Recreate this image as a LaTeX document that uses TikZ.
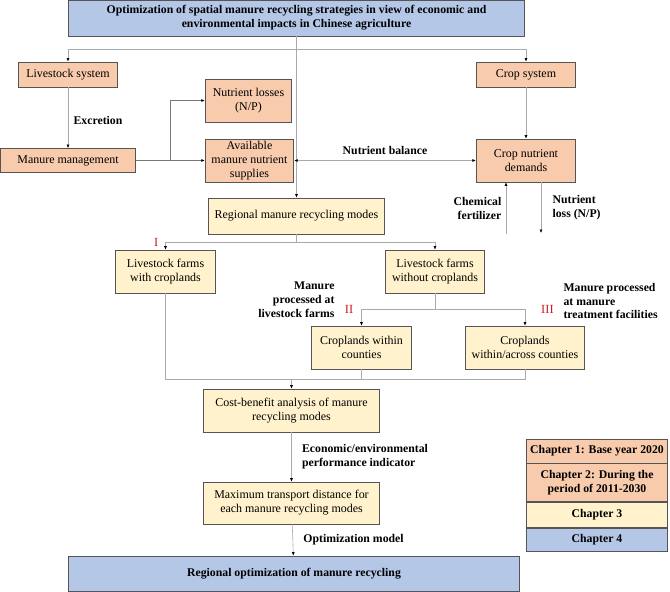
\documentclass[tikz,border=0pt]{standalone}
\usepackage{fontspec}
\setmainfont{Liberation Serif}
\usetikzlibrary{positioning,arrows.meta}
\definecolor{bluebox}{RGB}{180,199,231}
\definecolor{orangebox}{RGB}{248,203,173}
\definecolor{yellowbox}{RGB}{255,242,204}
\definecolor{edgegray}{RGB}{85,85,85}
\definecolor{linegray}{RGB}{170,170,170}
\definecolor{darkline}{RGB}{120,120,120}
\definecolor{romanred}{RGB}{200,30,40}

\begin{document}
\begin{tikzpicture}[x=1bp, y=1bp, font=\fontsize{12}{14}\selectfont,
	bx/.style={draw=edgegray, line width=.8pt, align=center, inner sep=1pt},
	wh/.style 2 args={minimum width=#1, minimum height=#2},
	ob/.style={bx, fill=orangebox},
	yb/.style={bx, fill=yellowbox},
	bb/.style={bx, fill=bluebox, font=\bfseries\fontsize{11.8}{14}\selectfont},
	ln/.style={draw=linegray, line width=.6pt},
	ar/.style={ln, -{Latex[length=3.5pt, width=3pt, color=black]}},
	ar2/.style={ln, {Latex[length=3.5pt, width=3pt, color=black]}-{Latex[length=3.5pt, width=3pt, color=black]}},
	lb/.style={font=\bfseries\fontsize{11.8}{14}\selectfont, align=left},
	rn/.style={text=romanred, inner sep=0pt, font=\fontsize{12.5}{12.5}\selectfont},
	ch/.style={bx, fill=#1, wh={142}{0}, font=\bfseries\fontsize{11.8}{14}\selectfont}]
	\useasboundingbox (0,0) rectangle (670,-592);

	% top and bottom
	\node[bb, wh={458}{36}] (top) at (296.5,-18) {Optimization of spatial manure recycling strategies in view of economic and\\environmental impacts in Chinese agriculture};
	\node[bb, wh={452}{35}] (ro) at (294,-573.5) {Regional optimization of manure recycling};

	% systems
	\node[ob, wh={100}{25}] (ls) at (68,-74.5) {Livestock system};
	\node[ob, wh={99}{25}] (cs) at (526,-74.5) {Crop system};
	\node[ob, wh={136}{24}] (mm) at (68,-160.5) {Manure management};
	\node[ob, wh={87}{43}] (nl) at (248.5,-100.5) {Nutrient losses\\(N/P)};
	\node[ob, wh={89}{43}] (av) at (249.5,-160.5) {Available\\manure nutrient\\supplies};
	\node[ob, wh={100}{43}] (cd) at (526,-160.5) {Crop nutrient\\demands};

	% recycling modes
	\node[yb, wh={177}{36}] (rm) at (296.5,-216) {Regional manure recycling modes};
	\node[yb, wh={101}{43}] (lw) at (165.5,-271.5) {Livestock farms\\with croplands};
	\node[yb, wh={100}{43}] (lo) at (435,-271.5) {Livestock farms\\without croplands};
	\node[yb, wh={101}{43}] (cw) at (361.5,-347.5) {Croplands within\\counties};
	\node[yb, wh={120}{43}] (ca) at (525,-347.5) {Croplands\\within/across counties};
	\node[yb, wh={177}{43}] (cb) at (291.5,-410.5) {Cost-benefit analysis of manure\\recycling modes};
	\node[yb, wh={177}{42}] (mt) at (291.5,-503) {Maximum transport distance for\\each manure recycling modes};

	% legend
	\node[ch=orangebox, minimum height=24] (ch1) at (597,-451) {Chapter 1: Base year 2020};
	\node[ch=orangebox, minimum height=38, below=0pt of ch1] (ch2) {Chapter 2: During the\\period of 2011-2030};
	\node[ch=yellowbox, minimum height=25, below=0pt of ch2] (ch3) {Chapter 3};
	\node[ch=bluebox, minimum height=23, below=0pt of ch3] (ch4) {Chapter 4};

	% connectors
	\coordinate (j1) at (296.5,-49);
	\draw[ln] (top.south) -- (j1);
	\draw[ar] (j1) -| (ls.north);
	\draw[ar] (j1) -| (cs.north);
	\draw[ar] (j1) -- (rm.north);
	\draw[ar] (ls) -- node[lb, right=2pt, pos=.55] {Excretion} (mm);

	\coordinate (j2) at (170,-160.5);
	\draw[ln, draw=darkline] (mm.east) -- (j2);
	\draw[ar, draw=darkline] (j2) |- (nl.west);
	\draw[ar, draw=darkline] (j2) -- (av.west);
	\draw[ar2] (av.east) -- node[lb, above=2pt] {Nutrient balance} (cd.west);
	\draw[ar] (cs) -- (cd);

	\coordinate (cf) at (506,-234);
	\coordinate (nn) at (541,-233);
	\draw[ar] (cf) -- node[lb, left=1pt, align=right] {Chemical\\fertilizer} (cf |- cd.south);
	\draw[ar] (nn |- cd.south) -- node[lb, right=8pt] {Nutrient\\loss (N/P)} (nn);

	\coordinate (j3) at (296.5,-242);
	\draw[ln] (rm) -- (j3);
	\draw[ar] (j3) -| node[rn, pos=.5, left=7pt] {I} (lw.north);
	\draw[ar] (j3) -| (lo.north);

	\coordinate (j4) at (435,-309);
	\draw[ln] (lo) -- (j4);
	\draw[ar] (j4) -| node[rn, pos=.5, left=8pt] (r2) {II} (cw.north);
	\draw[ar] (j4) -| node[rn, pos=.5, right=16pt] (r3) {III} (ca.north);
	\node[lb, align=right, anchor=east] (mp1) at (338,-299.5) {Manure\\processed at\\livestock farms};
	\node[lb, anchor=west] (mp2) at (560,-301) {Manure processed\\at manure\\treatment facilities};

	\coordinate (j5) at (291.5,-379);
	\draw[ln] (lw.south) |- (ca.south |- j5) -- (ca.south);
	\draw[ln] (cw.south) -- (cw.south |- j5);
	\draw[ar] (j5) -- (cb.north);
	\draw[ar] (cb) -- node[lb, right=7pt] {Economic/environmental\\performance indicator} (mt);
	\draw[ar] (mt) -- node[lb, right=7pt] {Optimization model} (ro);
\end{tikzpicture}
\end{document}
